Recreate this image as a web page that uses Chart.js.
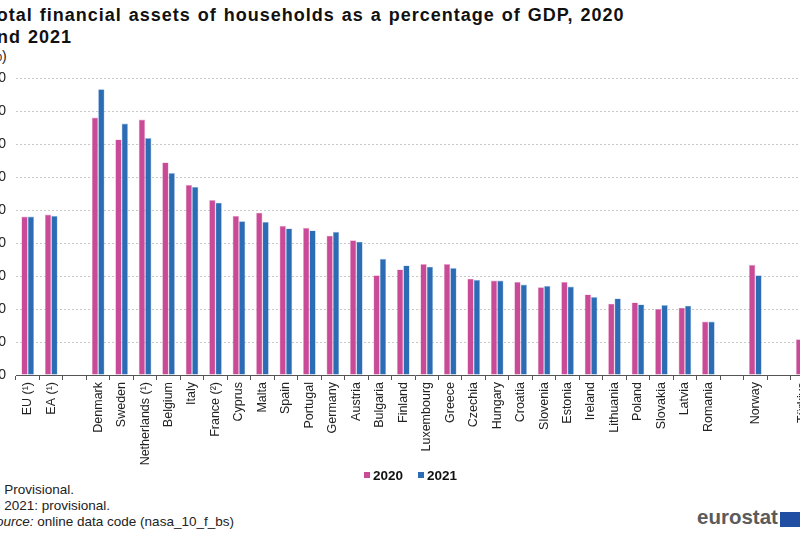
<!DOCTYPE html>
<html>
<head>
<meta charset="utf-8">
<script src="https://cdn.jsdelivr.net/npm/chart.js@4/dist/chart.umd.min.js"></script>
<style>
  html, body { margin: 0; padding: 0; background: #fff; }
  #page { position: relative; width: 800px; height: 534px; overflow: hidden; font-family: "Liberation Sans", Arial, sans-serif; }
  #box { position: absolute; left: -30px; top: 0; width: 850px; height: 470px; }
  .title { position: absolute; left: -14px; top: 4px; font-size: 18px; font-weight: bold; color: #111; line-height: 22px; white-space: nowrap; letter-spacing: 1px; word-spacing: 1px; }
  .unit { position: absolute; left: -15px; top: 48px; font-size: 14px; color: #222; }
  .legend { position: absolute; left: 364px; top: 468px; font-size: 13.5px; font-weight: bold; color: #111; white-space: nowrap; }
  .legend span.sq { display: inline-block; width: 6px; height: 6px; margin-right: 3px; vertical-align: 2px; }
  .notes { position: absolute; left: -13px; top: 482px; font-size: 13.5px; color: #222; line-height: 16px; white-space: nowrap; }
  .logo { position: absolute; left: 697px; top: 505px; font-size: 20.5px; font-weight: bold; color: #5b5b5b; }
  .flag { position: absolute; left: 780px; top: 512px; width: 22px; height: 15px; background: #1f4ea3; }
</style>
</head>
<body>
<div id="page">
  <div class="title">Total financial assets of households as a percentage of GDP, 2020<br>and 2021</div>
  <div class="unit">(%)</div>
  <div id="box"><canvas id="c" width="850" height="470"></canvas></div>
  <div class="legend"><span class="sq" style="background:#c94a96"></span>2020&nbsp;&nbsp;&nbsp;&nbsp;<span class="sq" style="background:#2b6cb5"></span>2021</div>
  <div class="notes">(¹) Provisional.<br>(²) 2021: provisional.<br><i>Source:</i> online data code (nasa_10_f_bs)</div>
  <div class="logo">eurostat</div>
  <div class="flag"></div>
</div>
<script>
var countries = ["EU (\u00b9)", "EA (\u00b9)", "", "Denmark", "Sweden", "Netherlands (\u00b9)", "Belgium", "Italy", "France (\u00b2)",
  "Cyprus", "Malta", "Spain", "Portugal", "Germany", "Austria", "Bulgaria", "Finland", "Luxembourg", "Greece",
  "Czechia", "Hungary", "Croatia", "Slovenia", "Estonia", "Ireland", "Lithuania", "Poland", "Slovakia", "Latvia",
  "Romania", " ", "Norway", "  ", "T\u00fcrkiye"];
var values2020 = [240, 243, null, 390, 357, 387, 322, 288, 265, 241, 246, 226, 223, 211, 204, 151, 160, 168, 168,
  146, 143, 141, 133, 141, 122, 108, 110, 100, 102, 81, null, 167, null, 54];
var values2021 = [240, 241, null, 433, 381, 359, 306, 285, 261, 233, 232, 222, 219, 217, 202, 176, 166, 164, 162,
  144, 143, 137, 135, 134, 118, 116, 107, 106, 105, 81, null, 151, null, 48];
var yTicks = [0, 50, 100, 150, 200, 250, 300, 350, 400, 450];

var ctx = document.getElementById('c');
new Chart(ctx, {
  type: 'bar',
  data: {
    labels: countries,
    datasets: [
      { label: '2020', data: values2020, backgroundColor: '#c94a96', borderColor: '#e9a6cc', borderWidth: 0.6 },
      { label: '2021', data: values2021, backgroundColor: '#2b6cb5', borderColor: '#9dbde3', borderWidth: 0.6 }
    ]
  },
  options: {
    responsive: false,
    animation: false,
    layout: { padding: { top: 78, right: 6, left: 0, bottom: 0 } },
    plugins: { legend: { display: false }, title: { display: false }, tooltip: { enabled: false } },
    datasets: { bar: { categoryPercentage: 0.54, barPercentage: 1 } },
    scales: {
      x: {
        afterFit: function(s) { s.height = 95; },
        grid: { display: true, drawOnChartArea: false, drawTicks: true, tickLength: 5, color: '#555', offset: true },
        border: { color: '#555', width: 1 },
        ticks: { autoSkip: false, maxRotation: 90, minRotation: 90, padding: 2,
          font: { family: 'Liberation Sans', size: 12.5 }, color: '#222' }
      },
      y: {
        min: 0, max: 450,
        afterFit: function(s) { s.width = 46; },
        afterBuildTicks: function(s) { s.ticks = yTicks.map(function(v) { return { value: v }; }); },
        grid: { color: '#c8c8c8', drawTicks: false, lineWidth: 1 },
        border: { display: false, dash: [2, 2] },
        ticks: { padding: 10, font: { family: 'Liberation Sans', size: 14 }, color: '#222' }
      }
    }
  }
});
</script>
</body>
</html>
